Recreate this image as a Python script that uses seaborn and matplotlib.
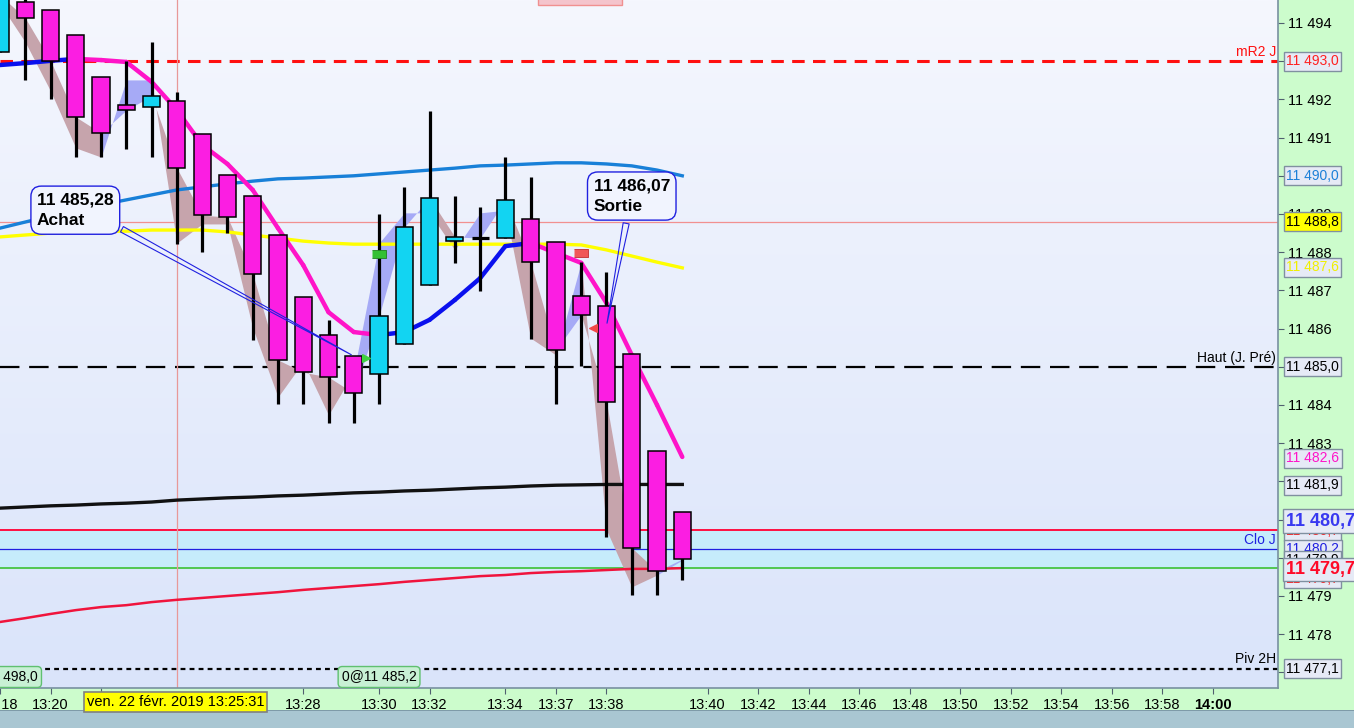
import numpy as np
import pandas as pd
import seaborn as sns
import matplotlib.pyplot as plt
from matplotlib.patches import Rectangle
from matplotlib.colors import LinearSegmentedColormap

plt.rcParams['font.family'] = ['Liberation Sans', 'DejaVu Sans']
plt.rcParams['lines.scale_dashes'] = False

# ---- data (bar index 0..27) ----
bars = list(range(28))
opens = [11493.24, 11494.55, 11494.34, 11493.69, 11492.59, 11491.85, 11491.80, 11491.96,
         11491.09, 11490.02, 11489.47, 11488.45, 11486.83, 11485.83, 11485.28, 11484.81,
         11485.60, 11487.14, 11488.29, 11488.37, 11488.37, 11488.87, 11488.27, 11486.85,
         11486.59, 11485.34, 11482.80, 11481.20]
highs = [11494.90, 11494.80, 11494.34, 11493.69, 11492.59, 11493.01, 11493.50, 11492.19,
         11491.09, 11490.02, 11489.47, 11488.45, 11486.83, 11486.23, 11485.28, 11489.00,
         11489.71, 11491.70, 11489.47, 11489.18, 11490.49, 11489.97, 11488.27, 11487.74,
         11487.48, 11485.34, 11482.80, 11481.20]
lows = [11493.24, 11492.51, 11492.01, 11490.49, 11490.49, 11490.70, 11490.49, 11488.21,
        11488.01, 11488.50, 11485.70, 11484.03, 11484.03, 11483.53, 11483.53, 11484.03,
        11485.60, 11487.14, 11487.72, 11486.98, 11488.37, 11485.73, 11484.03, 11485.02,
        11480.54, 11479.03, 11479.03, 11479.42]
closes = [11494.73, 11494.13, 11493.01, 11491.54, 11491.12, 11491.72, 11492.09, 11490.20,
          11488.97, 11488.92, 11487.43, 11485.18, 11484.86, 11484.73, 11484.31, 11486.33,
          11488.66, 11489.42, 11488.40, 11488.37, 11489.37, 11487.74, 11485.44, 11486.36,
          11484.08, 11480.26, 11479.65, 11479.97]
# swing line drawn as shaded ribbon against the closes
swing = [11494.50, 11493.50, 11492.22, 11490.73, 11490.49, 11492.51, 11492.51, 11488.24,
         11488.74, 11488.74, 11486.02, 11484.21, 11485.13, 11483.74, 11484.86, 11488.24,
         11489.03, 11489.03, 11488.06, 11489.03, 11489.10, 11485.75, 11485.31, 11487.74,
         11480.73, 11479.24, 11479.55, 11479.94]
# shading colour of the segment ending at each bar: d = falling swing, u = rising swing
fill_zone = ['', 'd', 'd', 'd', 'd', 'u', 'u', 'd', 'd', 'd', 'd', 'd', 'd', 'd', 'd',
             'u', 'u', 'u', 'd', 'u', 'u', 'd', 'd', 'u', 'd', 'd', 'd', 'u']

ma_fast = [11492.90, 11492.95, 11493.01, 11493.06, 11493.03, 11492.98, 11492.46, 11491.72,
           11490.81, 11490.31, 11489.63, 11488.63, 11487.66, 11486.43, 11485.91, 11485.83,
           11485.91, 11486.23, 11486.75, 11487.32, 11488.16, 11488.24, 11487.98, 11487.72,
           11486.67, 11485.31, 11484.00, 11482.64]
ma_blue = [11488.63, 11488.79, 11488.95, 11489.10, 11489.24, 11489.37, 11489.50, 11489.63,
           11489.71, 11489.79, 11489.86, 11489.92, 11489.94, 11489.97, 11490.00, 11490.05,
           11490.10, 11490.15, 11490.20, 11490.26, 11490.28, 11490.31, 11490.34, 11490.34,
           11490.31, 11490.26, 11490.15, 11490.00]
ma_yellow = [11488.40, 11488.45, 11488.50, 11488.53, 11488.55, 11488.55, 11488.58, 11488.58,
             11488.58, 11488.53, 11488.45, 11488.37, 11488.29, 11488.24, 11488.21, 11488.21,
             11488.21, 11488.21, 11488.21, 11488.21, 11488.21, 11488.21, 11488.21, 11488.19,
             11488.06, 11487.90, 11487.74, 11487.59]
ma_black = [11481.30, 11481.33, 11481.36, 11481.38, 11481.41, 11481.43, 11481.46, 11481.51,
            11481.54, 11481.57, 11481.59, 11481.62, 11481.64, 11481.67, 11481.70, 11481.72,
            11481.75, 11481.77, 11481.80, 11481.83, 11481.85, 11481.88, 11481.90, 11481.91,
            11481.92, 11481.92, 11481.92, 11481.92]
ma_red = [11478.32, 11478.42, 11478.53, 11478.63, 11478.71, 11478.76, 11478.84, 11478.90,
          11478.95, 11479.00, 11479.05, 11479.10, 11479.16, 11479.21, 11479.26, 11479.31,
          11479.37, 11479.42, 11479.47, 11479.52, 11479.55, 11479.60, 11479.63, 11479.65,
          11479.68, 11479.71, 11479.71, 11479.73]

level_mr2 = 11493.0
level_cross = 11488.8
level_haut = 11485.0
level_ask = 11480.73
level_clo = 11480.23
level_bid = 11479.73
level_piv = 11477.1

achat_bar, achat_price = 14, 11485.28
sortie_bar, sortie_price = 24, 11486.07
buy_signal = (15, 11487.95)
sell_signal = (23, 11487.98)
buy_arrow = (14.5, 11485.23)
sell_arrow = (23.45, 11486.02)

tick_bars = [0, 2, 4, 12, 15, 17, 20, 22, 24, 28, 30, 32, 34, 36, 38, 40, 42, 44, 46, 48]
tick_labels = ['13:18', '13:20', '13:22', '13:28', '13:30', '13:32', '13:34', '13:37', '13:38',
               '13:40', '13:42', '13:44', '13:46', '13:48', '13:50', '13:52', '13:54', '13:56',
               '13:58', '14:00']
price_ticks = list(range(11477, 11495))

# right-hand price tags: (y position, text, text colour, face colour, size, bold)
price_tags = [
    (11493.0, '11 493,0', '#ff2020', '#e6eaf6', 10, False),
    (11490.0, '11 490,0', '#1c80d8', '#e6eaf6', 10, False),
    (11488.8, '11 488,8', 'black', '#ffff00', 10, False),
    (11487.6, '11 487,6', '#f0f000', '#e6eaf6', 10, False),
    (11485.0, '11 485,0', 'black', '#e6eaf6', 10, False),
    (11482.6, '11 482,6', '#ff14c8', '#e6eaf6', 10, False),
    (11481.9, '11 481,9', 'black', '#e6eaf6', 10, False),
    (11480.7, '11 480,7', '#ff2020', '#e6eaf6', 10, False),
    (11480.23, '11 480,2', '#2020e0', '#e6eaf6', 10, False),
    (11479.93, '11 479,9', 'black', '#e6eaf6', 10, False),
    (11479.45, '11 479,7', '#ff2020', '#e6eaf6', 10, False),
    (11480.96, '11 480,7', '#3838f0', '#e6eaf6', 13, True),
    (11479.70, '11 479,7', '#ff0a28', '#e6eaf6', 13, True),
    (11477.1, '11 477,1', 'black', '#e6eaf6', 10, False),
]

df = pd.DataFrame({'bar': bars, 'open': opens, 'high': highs, 'low': lows, 'close': closes,
                   'fast': ma_fast, 'blue': ma_blue, 'yellow': ma_yellow,
                   'black': ma_black, 'red': ma_red})

W, H = 1354, 728
fig = plt.figure(figsize=(W / 100, H / 100), dpi=100, facecolor='#ccfccc')
ax = fig.add_axes([0, 40 / H, 1278 / W, 688 / H])

x0, x1 = 1.5 / 25.3, 1279.5 / 25.3
y1 = 11494 + 23 / 38.2
y0 = 11494 - 665 / 38.2

# background gradient
grad = np.linspace(1, 0, 256).reshape(-1, 1)
cmap = LinearSegmentedColormap.from_list('bg', ['#dae4fa', '#f5f7fe'])
ax.imshow(grad, extent=[0, 1, 0, 1], transform=ax.transAxes, aspect='auto', cmap=cmap, zorder=0)

# horizontal levels
ax.axhspan(level_bid, level_ask, color='#c6ecfb', zorder=0.5)
ax.axhline(level_mr2, color='#ff1010', lw=2.2, ls=(0, (9, 6)), zorder=1)
ax.axhline(level_cross, color='#f29090', lw=0.9, zorder=1)
ax.axhline(level_haut, color='black', lw=1.6, ls=(0, (14, 7)), zorder=1)
ax.axhline(level_ask, color='#ff1040', lw=1.4, zorder=1)
ax.axhline(level_clo, color='#2020e0', lw=0.9, zorder=1)
ax.axhline(level_bid, color='#50c850', lw=1.4, zorder=1)
ax.axhline(level_piv, color='black', lw=1.6, ls=(0, (3.5, 3)), zorder=1)
ax.axvline(7, color='#e89898', lw=0.9, zorder=1)

for lvl, txt, col in [(level_mr2, 'mR2 J', '#ff1010'), (level_haut, 'Haut (J. Pré)', 'black'),
                      (level_clo, 'Clo J', '#2020e0'), (level_piv, 'Piv 2H', 'black')]:
    ax.text(0.9985, lvl + 0.06, txt, transform=ax.get_yaxis_transform(), ha='right',
            va='bottom', color=col, fontsize=10, zorder=2)

# shaded swing ribbon between closes and swing line
for i in range(1, len(bars)):
    xs = [bars[i - 1], bars[i]]
    col = '#c6a4ac' if fill_zone[i] == 'd' else '#a6aaf6'
    ax.fill_between(xs, [closes[i - 1], closes[i]], [swing[i - 1], swing[i]],
                    color=col, lw=0, zorder=1.5)

# slow curves
sns.lineplot(data=df, x='bar', y='red', ax=ax, color='#f0143c', lw=1.8, zorder=2)
sns.lineplot(data=df, x='bar', y='black', ax=ax, color='#111111', lw=2.4, zorder=2)
sns.lineplot(data=df, x='bar', y='yellow', ax=ax, color='#ffff00', lw=2.4, zorder=2)
sns.lineplot(data=df, x='bar', y='blue', ax=ax, color='#1880d8', lw=2.4, zorder=2)

# fast average coloured by direction
for i in range(1, len(bars)):
    col = '#0a10ee' if ma_fast[i] > ma_fast[i - 1] else '#ff14c8'
    ax.plot([bars[i - 1], bars[i]], [ma_fast[i - 1], ma_fast[i]], color=col, lw=3.2,
            solid_capstyle='round', zorder=2.5)

# candles
ax.vlines(df['bar'], df['low'], df['high'], color='black', lw=2.3, zorder=3.5)
for b, o, c in zip(bars, opens, closes):
    if c == o:
        ax.hlines(c, b - 0.34, b + 0.34, color='black', lw=2.3, zorder=4)
        continue
    col = '#12d4f2' if c > o else '#fb1ee2'
    ax.bar(b, abs(c - o), bottom=min(o, c), width=0.68, color=col, edgecolor='black',
           linewidth=1.1, zorder=4)

# signal marks
rect = [(-1.7, -1), (1.7, -1), (1.7, 1), (-1.7, 1)]
ax.scatter(*buy_signal, marker=rect, s=110, color='#34c034', edgecolor='#208020', lw=0.6, zorder=5)
ax.scatter(*sell_signal, marker=rect, s=110, color='#f05858', edgecolor='#c03030', lw=0.6, zorder=5)
ax.scatter(*buy_arrow, marker='>', s=30, color='#40d040', zorder=5)
ax.scatter(*sell_arrow, marker='<', s=30, color='#f04848', zorder=5)

# trade annotations
box = dict(boxstyle='round,pad=0.35,rounding_size=0.6', fc='#f1f4fe', ec='#2020e0', lw=1)
ax.annotate('11 485,28\nAchat', xy=(achat_bar, achat_price), xytext=(2.98, 11489.10),
            ha='center', va='center', multialignment='left', fontsize=12.5, fontweight='bold',
            linespacing=1.5, bbox=box, zorder=6,
            arrowprops=dict(arrowstyle='wedge,tail_width=0.35,shrink_factor=0.5', fc='none',
                            ec='#2020e0', lw=0.8, relpos=(0.98, 0.12)))
ax.annotate('11 486,07\nSortie', xy=(sortie_bar, sortie_price), xytext=(25.0, 11489.47),
            ha='center', va='center', multialignment='left', fontsize=12.5, fontweight='bold',
            linespacing=1.5, bbox=box, zorder=6,
            arrowprops=dict(arrowstyle='wedge,tail_width=0.35,shrink_factor=0.5', fc='none',
                            ec='#2020e0', lw=0.8, relpos=(0.45, 0.0)))

# bottom order tags
tag = dict(boxstyle='round,pad=0.25,rounding_size=0.3', fc='#c8f0d4', ec='#60c070', lw=1)
ax.text(38 / 1278, 0.016, '11 498,0', transform=ax.transAxes, ha='right', va='center',
        fontsize=10, bbox=tag, zorder=6)
ax.text(15, 0.016, '0@11 485,2', transform=ax.get_xaxis_transform(), ha='center',
        va='center', fontsize=10, bbox=tag, zorder=6)
ax.add_patch(Rectangle((538 / 1278, 0.993), 84 / 1278, 0.01, transform=ax.transAxes,
                       fc='#f4c4cc', ec='#f09090', lw=1, zorder=6, clip_on=False))

# price tags on the right
for p, txt, col, fc, size, bold in price_tags:
    ax.text(1.0063, p, txt, transform=ax.get_yaxis_transform(), ha='left', va='center',
            fontsize=size, color=col, fontweight='bold' if bold else 'normal',
            bbox=dict(boxstyle='square,pad=0.18', fc=fc, ec='#8090a0', lw=1),
            zorder=7, clip_on=False)

# axes and ticks
ax.set_xlim(x0, x1)
ax.set_ylim(y0, y1)
ax.set_xlabel('')
ax.set_ylabel('')
ax.yaxis.tick_right()
ax.set_yticks(price_ticks)
ax.set_yticklabels([f'{v // 1000} {v % 1000:03d}' for v in price_ticks])
ax.set_xticks(tick_bars)
ax.set_xticklabels(tick_labels)
ax.get_xticklabels()[-1].set_fontweight('bold')
ax.tick_params(axis='y', direction='out', length=4, pad=3, labelsize=10.5, color='#506070')
ax.tick_params(axis='x', direction='out', length=4, pad=3, labelsize=10.5, color='#506070')
for s in ['top', 'left']:
    ax.spines[s].set_visible(False)
for s in ['right', 'bottom']:
    ax.spines[s].set_color('#7890a0')
    ax.spines[s].set_linewidth(1.2)

# date tag under the crosshair
fig.text(175.5 / W, (H - 702) / H, 'ven. 22 févr. 2019 13:25:31', ha='center', va='center',
         fontsize=10.5, bbox=dict(boxstyle='square,pad=0.2', fc='#ffff00', ec='#808080', lw=1.2))

# toolbar strip
fig.patches.append(Rectangle((0, 0), 1, 18 / H, transform=fig.transFigure,
                             fc='#a9c6d2', ec='none'))
fig.patches.append(Rectangle((0, 17 / H), 1, 1.5 / H, transform=fig.transFigure,
                             fc='#7e9aa8', ec='none'))

fig.savefig('out.png', dpi=100, facecolor=fig.get_facecolor())
